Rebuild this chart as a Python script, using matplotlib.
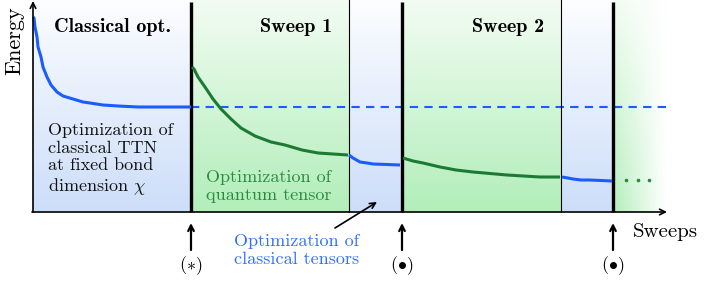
import numpy as np
import matplotlib.pyplot as plt

plt.rcParams['font.family'] = ['cmr10', 'DejaVu Serif']
plt.rcParams['mathtext.fontset'] = 'cm'
plt.rcParams['axes.unicode_minus'] = False

# region borders along the sweep axis (schematic units)
edges = [0, 158, 316, 369, 528, 580, 633]
kinds = ['classical', 'quantum', 'classical', 'quantum', 'classical', 'fade']
thick_at = [158, 369, 580]
thin_at = [316, 528]
top = 212

# energy curves
cl0_x = [0, 1, 2, 4, 5, 8, 10, 14, 18, 24, 30, 40, 50, 57, 70, 85, 105, 158]
cl0_y = [195, 194, 185, 175, 165, 155, 145, 135, 127, 120, 116, 113, 110,
         109, 107, 106, 105, 105]
q1_x = [159, 161, 165, 172, 180, 188, 198, 208, 222, 238, 252, 269, 285, 300, 315]
q1_y = [145, 143, 135, 125, 113, 103, 93, 84, 76, 70, 67, 62, 59, 58, 57]
cl1_x = [316, 320, 327, 334, 340, 367]
cl1_y = [57, 54, 50, 49, 48, 47]
q2_x = [370, 380, 390, 407, 423, 440, 474, 507, 527]
q2_y = [54, 51, 49, 45, 42, 40, 37, 35, 35]
cl2_x = [529, 535, 540, 548, 557, 579]
cl2_y = [35, 34, 33, 32, 32, 31]
dots_x = [593, 605, 616]
dots_y = [32, 32, 32]
ref_level = 105

blue = '#1a5cff'
green = '#1d7a35'
blue_bot = np.array([205, 222, 249]) / 255
blue_top = np.array([252, 253, 255]) / 255
green_bot = np.array([178, 238, 186]) / 255
green_top = np.array([242, 252, 242]) / 255

fig = plt.figure(figsize=(7.06, 2.82), dpi=100)
ax = fig.add_axes([0, 0, 1, 1])
ax.set_xlim(-33, 673)
ax.set_ylim(-70, 212)
ax.axis('off')

t = np.linspace(0, 1, 100)[:, None, None]
for x0, x1, k in zip(edges[:-1], edges[1:], kinds):
    if k == 'classical':
        img = blue_top * (1 - t) + blue_bot * t
    else:
        img = green_top * (1 - t) + green_bot * t
    if k == 'fade':
        s = np.linspace(0, 1, 100)[None, :, None]
        img = np.clip(img * (1 - s) + 1.0 * s, 0, 1)
    ax.imshow(img, extent=[x0, x1, 0, top], aspect='auto', zorder=0,
              interpolation='bilinear')

for x in thick_at:
    ax.plot([x, x], [0, top - 2], color='black', lw=2.4, zorder=3,
            solid_capstyle='butt')
for x in thin_at:
    ax.plot([x, x], [0, top], color='black', lw=0.8, zorder=3)

ax.plot([158, edges[-1]], [ref_level, ref_level], color=blue, lw=1.5,
        dashes=(4, 3), zorder=2)
kw = dict(lw=2.2, zorder=4, solid_joinstyle='round', solid_capstyle='butt')
ax.plot(cl0_x, cl0_y, color=blue, **kw)
ax.plot(q1_x, q1_y, color=green, **kw)
ax.plot(cl1_x, cl1_y, color=blue, **kw)
ax.plot(q2_x, q2_y, color=green, **kw)
ax.plot(cl2_x, cl2_y, color=blue, **kw)
ax.plot(dots_x, dots_y, 'o', color='#2a8a3e', ms=1.6, zorder=4)

# axes with arrows
ax.annotate('', xy=(0, 211), xytext=(0, 0), zorder=5,
            arrowprops=dict(arrowstyle='->', lw=1.2, color='black',
                            shrinkA=0, shrinkB=0))
ax.annotate('', xy=(634, 0), xytext=(-1, 0), zorder=5,
            arrowprops=dict(arrowstyle='->', lw=1.2, color='black',
                            shrinkA=0, shrinkB=0))

ax.text(-18, 171, 'Energy', rotation=90, ha='center', va='center', fontsize=16)
ax.text(600, -20, 'Sweeps', ha='left', va='center', fontsize=15)

ax.text(79, 185, 'Classical opt.', ha='center', va='center', fontsize=14.5,
        family='cmb10')
ax.text(263, 185, 'Sweep 1', ha='center', va='center', fontsize=14.5,
        family='cmb10')
ax.text(475, 185, 'Sweep 2', ha='center', va='center', fontsize=14.5,
        family='cmb10')

ax.text(15, 52, 'Optimization of\nclassical TTN\nat fixed bond\ndimension $\\chi$',
        ha='left', va='center', fontsize=13, color='#111111', linespacing=1.2)
ax.text(173, 26, 'Optimization of\nquantum tensor', ha='left', va='center',
        fontsize=13, color='#2a8a3e', linespacing=1.2)
ax.text(264, -38.5, 'Optimization of\nclassical tensors', ha='center',
        va='center', fontsize=13, color='#2f6fff', linespacing=1.25)

ax.annotate('', xy=(344, 10), xytext=(302, -16),
            arrowprops=dict(arrowstyle='->', lw=1.2, color='black',
                            shrinkA=0, shrinkB=0))

marks = ['($\\ast$)', '($\\bullet$)', '($\\bullet$)']
for x, m in zip(thick_at, marks):
    ax.annotate('', xy=(x, -11), xytext=(x, -38),
                arrowprops=dict(arrowstyle='->', lw=1.6, color='black',
                                shrinkA=0, shrinkB=0))
    ax.text(x, -54, m, ha='center', va='center', fontsize=13)

fig.savefig('out.png', dpi=100)
